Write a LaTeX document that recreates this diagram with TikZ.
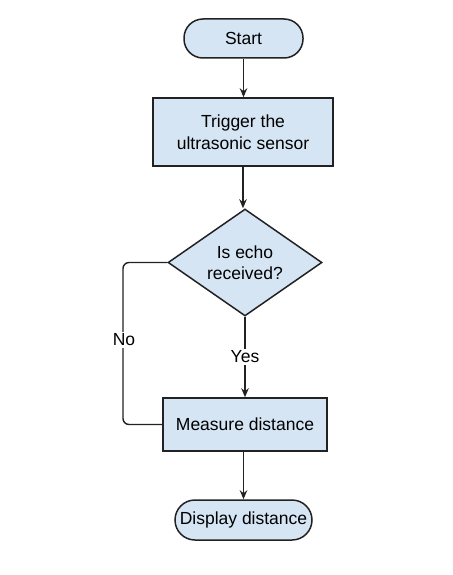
\documentclass[tikz,border=0pt]{standalone}
\usepackage{fontspec}
\setmainfont{Liberation Sans}
\usetikzlibrary{shapes.geometric,arrows.meta}
\definecolor{boxfill}{HTML}{D5E5F4}
\definecolor{edge}{HTML}{222222}
\tikzset{
  base/.style={draw=edge,fill=boxfill,line width=1.5pt,font=\fontsize{17.5}{21.5}\selectfont,text=black,align=center},
  term/.style={base,rounded corners=19pt,inner sep=0pt},
  proc/.style={base,inner sep=0pt},
  dec/.style={base,diamond,aspect=1.44,inner sep=0pt,minimum width=154pt,minimum height=107pt},
  arr/.style={draw=edge,line width=1.4pt,-{Stealth[length=9pt,width=7.5pt]}},
  conn/.style={draw=edge,line width=1.4pt},
  lbl/.style={fill=white,font=\fontsize{17.5}{21.5}\selectfont,inner sep=2pt}
}
\begin{document}
\begin{tikzpicture}[x=1pt,y=-1pt]
\useasboundingbox (0,0) rectangle (452,575);
\node[term,minimum width=119pt,minimum height=39pt] (start) at (243.5,38.5) {Start};
\node[proc,minimum width=180pt,minimum height=68pt] (trig) at (243,132) {Trigger the\\ultrasonic sensor};
\node[dec] (dec) at (245,262.5) {Is echo\\received?};
\node[proc,minimum width=164pt,minimum height=53pt] (meas) at (245,424.5) {Measure distance};
\node[term,minimum width=137pt,minimum height=40pt,rounded corners=20pt] (disp) at (243.5,520) {Display distance};
\draw[arr] (start.south) -- (start.south |- trig.north);
\draw[arr] (trig.south) -- (trig.south |- dec.north);
\draw[arr] (dec.south) -- (dec.south |- meas.north);
\node[lbl] (yes) at (245,357) {Yes};
\draw[arr] (meas.south -| disp.north) -- (disp.north);
\coordinate (c1) at (123,262.5);
\coordinate (c2) at (123,424.5);
\draw[conn,rounded corners=6pt] (dec.west) -- (c1) -- (c2) -- (meas.west);
\node[lbl] (no) at (124,340) {No};
\end{tikzpicture}
\end{document}
